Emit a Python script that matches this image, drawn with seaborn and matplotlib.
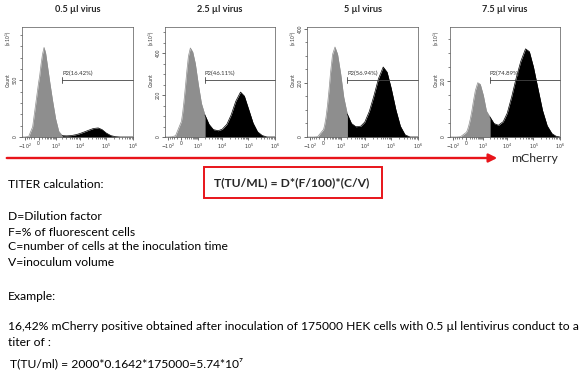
import matplotlib
matplotlib.use("Agg")
import matplotlib.pyplot as plt
import seaborn as sns
import pandas as pd
import numpy as np

# fluorescence channel (mCherry) positions where the histogram heights were read
fluo = [-142, -100, -60, -30, 0, 30, 70, 120, 180, 250, 350, 500, 700, 1000, 1400, 2000,
        3000, 4500, 7000, 1e4, 1.5e4, 2.2e4, 3.3e4, 5e4, 7e4, 1e5, 1.5e5, 2.2e5, 3.3e5,
        5e5, 7e5, 1e6]

# counts (x10^1) for each virus volume
count_05 = [0, 0, 5, 90, 480, 540, 640, 730, 790, 740, 620, 470, 320, 160, 50, 12,
            10, 12, 20, 30, 45, 60, 75, 80, 65, 35, 12, 3, 0, 0, 0, 0]
count_25 = [0, 0, 1, 6, 75, 110, 165, 235, 315, 385, 424, 405, 350, 250, 160, 105,
            60, 35, 30, 37, 60, 105, 170, 214, 195, 135, 66, 25, 7, 0, 0, 0]
count_5 = [0, 0, 0, 1, 28, 45, 74, 118, 176, 242, 306, 333, 306, 235, 147, 85,
           50, 38, 40, 55, 95, 150, 215, 259, 240, 180, 100, 40, 8, 0, 0, 0]
count_75 = [0, 0, 0, 1, 17, 26, 42, 64, 93, 128, 166, 194, 188, 149, 93, 72,
            48, 42, 55, 85, 145, 210, 270, 315, 305, 250, 170, 95, 40, 12, 3, 0]

titles = ["0.5 µl virus", "2.5 µl virus", "5 µl virus", "7.5 µl virus"]
p2_pct = ["16.42%", "46.11%", "56.94%", "74.89%"]
gate = 2000

ymax = [970, 524, 407, 393]
ylab_ticks = [[0, 500], [0, 200, 400], [0, 200, 400], [0, 200]]
ymin_step = [100, 50, 50, 50]

xticks = [-100, 0, 1e3, 1e4, 1e5, 1e6]
xticklabels = [r"$-10^2$", "0", r"$10^3$", r"$10^4$", r"$10^5$", r"$10^6$"]

sns.set_theme(style="white")
plt.rcParams["font.family"] = ["Lato", "DejaVu Sans"]

W, H = 584, 389
fig = plt.figure(figsize=(W / 100, H / 100), dpi=100)
fig.patch.set_facecolor("white")


def fwd(x):
    x = np.asarray(x, dtype=float)
    return np.where(x >= 0, np.log10(1 + np.abs(x) / 300), -np.log10(1 + np.abs(x) / 45))


def inv(y):
    y = np.asarray(y, dtype=float)
    y = np.clip(y, -10, 10)
    return np.where(y >= 0, 300 * (10 ** np.abs(y) - 1), -45 * (10 ** np.abs(y) - 1))


def fx(px):
    return px / W


def fy(py):
    return 1 - py / H


lefts = [22, 165, 307, 450]
rights = [133, 275, 418, 560]
top, bottom = 27, 137

minor_x = ([-80, -60, -40, -20] + list(range(100, 1000, 100)) +
           [m * 10 ** e for e in (3, 4, 5) for m in range(2, 10)])

for i, counts in enumerate([count_05, count_25, count_5, count_75]):
    ax = fig.add_axes([fx(lefts[i]), fy(bottom), fx(rights[i] - lefts[i]), (bottom - top) / H])
    ax.set_xscale("function", functions=(fwd, inv))
    df = pd.DataFrame({"fluo": fluo, "count": counts})
    x = df["fluo"].to_numpy()
    y = df["count"].to_numpy()
    ax.fill_between(x, y, where=x <= gate, color="#8e8e8e", lw=0)
    ax.fill_between(x, y, where=x >= gate, color="black", lw=0)
    sns.lineplot(data=df[df["fluo"] <= gate], x="fluo", y="count", color="#8e8e8e",
                 lw=0.5, ax=ax, legend=False)
    sns.lineplot(data=df[df["fluo"] >= gate], x="fluo", y="count", color="black",
                 lw=0.5, ax=ax, legend=False)
    ax.set_xlim(-142, 1e6)
    ax.set_ylim(0, ymax[i])
    ax.set_xlabel("")
    ax.set_ylabel("")

    ax.set_xticks(xticks)
    ax.set_xticklabels(xticklabels)
    ax.set_xticks(minor_x, minor=True)
    ax.set_yticks(ylab_ticks[i])
    ax.set_yticklabels([str(v) for v in ylab_ticks[i]], rotation=90, va="center")
    ax.set_yticks(np.arange(0, ymax[i], ymin_step[i]), minor=True)
    ax.tick_params(axis="both", which="major", length=2, width=0.5, labelsize=3.4,
                   pad=1.2, colors="#333333", bottom=True, left=True)
    ax.tick_params(axis="both", which="minor", length=1.2, width=0.4, bottom=True, left=True)
    for s in ax.spines.values():
        s.set_color("#555555")
        s.set_linewidth(0.5)

    # P2 gate
    tr = ax.get_xaxis_transform()
    ax.plot([gate, 1e6], [0.52, 0.52], color="#444444", lw=0.6, transform=tr, clip_on=False)
    ax.plot([gate, gate], [0.49, 0.55], color="#444444", lw=0.6, transform=tr)
    ax.text(gate, 0.555, "P2(" + p2_pct[i] + ")", transform=tr, fontsize=4.3,
            ha="left", va="bottom", color="#333333")

    ax.text(-0.125, 0.52, "Count", transform=ax.transAxes, rotation=90, fontsize=3.6,
            ha="center", va="center", color="#333333")
    ax.text(-0.125, 0.90, r"(x 10$^1$)", transform=ax.transAxes, rotation=90, fontsize=3.4,
            ha="center", va="center", color="#333333")

    fig.text(fx((lefts[i] + rights[i]) / 2), fy(10), titles[i], fontsize=6.6,
             fontweight="bold", ha="center", va="center")

# red arrow below the histograms
fig.add_artist(matplotlib.patches.FancyArrowPatch(
    (fx(4), fy(158)), (fx(500), fy(158)), transform=fig.transFigure,
    arrowstyle="-|>,head_length=5,head_width=2.5", color="#e8141a", lw=1.7))
fig.text(fx(535), fy(158), "mCherry", fontsize=8.8, ha="center", va="center")

# titer text block
txt = dict(fontsize=8.7, ha="left", va="center", color="black")
fig.text(fx(8), fy(185), "TITER calculation:", **txt)
fig.add_artist(matplotlib.patches.Rectangle(
    (fx(204), fy(198)), fx(178), 31 / H, transform=fig.transFigure,
    fill=False, edgecolor="#e8141a", lw=1.4))
fig.text(fx(292), fy(183), "T(TU/ML) = D*(F/100)*(C/V)", fontsize=8.7,
         fontweight="bold", ha="center", va="center")
fig.text(fx(8), fy(216), "D=Dilution factor", **txt)
fig.text(fx(8), fy(232), "F=% of fluorescent cells", **txt)
fig.text(fx(8), fy(247), "C=number of cells at the inoculation time", **txt)
fig.text(fx(8), fy(263), "V=inoculum volume", **txt)
fig.text(fx(8), fy(296), "Example:", **txt)
fig.text(fx(8), fy(326), "16,42% mCherry positive obtained after inoculation of 175000 HEK "
         "cells with 0.5 µl lentivirus conduct to a", **txt)
fig.text(fx(8), fy(342), "titer of :", **txt)
fig.text(fx(10), fy(363), "T(TU/ml) = 2000*0.1642*175000=5.74*10⁷", **txt)

fig.savefig("out.png", dpi=100, facecolor="white")
